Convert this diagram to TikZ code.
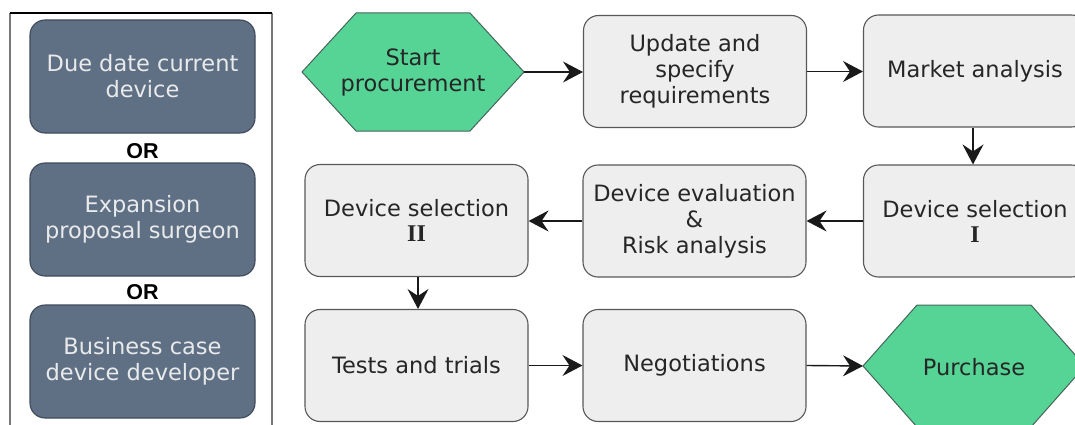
\documentclass[tikz,border=0pt]{standalone}
\usepackage{fontspec}
\setsansfont{DejaVu Sans}
\newfontfamily\numfont{Liberation Serif}
\newfontfamily\orfont{Liberation Sans}
\renewcommand{\familydefault}{\sfdefault}
\usetikzlibrary{arrows.meta}
\definecolor{slatefill}{RGB}{96,112,132}
\definecolor{slateedge}{RGB}{62,74,90}
\definecolor{slatetext}{RGB}{232,234,236}
\definecolor{boxfill}{RGB}{238,238,238}
\definecolor{boxedge}{RGB}{88,88,88}
\definecolor{greenfill}{RGB}{86,212,150}
\definecolor{greenedge}{RGB}{70,100,90}
\definecolor{panelside}{RGB}{120,120,120}
\newcommand{\stagenum}[1]{{\fontsize{24}{26}\selectfont\numfont\bfseries #1}}
\tikzset{
  lbl/.style={font=\fontsize{22.5}{26}\selectfont, align=center, text=black!85},
  stepbox/.style={lbl, draw=boxedge, fill=boxfill, line width=1.1pt,
    rounded corners=15pt, minimum width=223pt, minimum height=112pt, inner sep=0pt},
  trigger/.style={stepbox, draw=slateedge, fill=slatefill, text=slatetext,
    minimum width=225pt, minimum height=113pt},
  hexa/.style={draw=greenedge, fill=greenfill, line width=1pt},
  orlbl/.style={font=\fontsize{21.5}{24}\selectfont\orfont\bfseries, text=black},
  flow/.style={draw=black!90, line width=1.4pt,
    -{Stealth[length=20pt,width=21pt,inset=7pt]}}
}
\begin{document}
\begin{tikzpicture}[x=1pt,y=-1pt]
\useasboundingbox (0,0) rectangle (1075,425);

% frame around the triggers
\draw[panelside, line width=1.2pt] (10,425) -- (10,13);
\draw[panelside, line width=1.2pt] (272,425) -- (272,13);
\draw[black, line width=1.4pt] (10,13) -- (272,13);

% triggers
\node[trigger] (lb1) at (142.5,76.5) {Due date current\\device};
\node[orlbl] (or1) at (142.5,151) {OR};
\node[trigger] (lb2) at (142.5,219.5) {Expansion\\proposal surgeon};
\node[orlbl] (or2) at (142.5,292) {OR};
\node[trigger] (lb3) at (142.5,361.5) {Business case\\device developer};

% start terminal
\draw[hexa] (302,72) -- (356,13) -- (470,13) -- (524,72) -- (470,131) -- (356,131) -- cycle;
\node[lbl] (start) at (413,72) {Start\\procurement};
\coordinate (startE) at (524,72);

% purchase terminal
\draw[hexa] (863,366) -- (917,305) -- (1031,305) -- (1085,366) -- (1031,427) -- (917,427) -- cycle;
\node[lbl] (purchase) at (974,367) {Purchase};
\coordinate (purW) at (863,366);

% process steps
\node[stepbox] (upd)   at (695,71.5)   {Update and\\specify\\requirements};
\node[stepbox] (mkt)   at (975,71)     {\raisebox{-3pt}{Market analysis}};
\node[stepbox] (ds1)   at (975,221)    {Device selection\\[-1pt]\stagenum{I}};
\node[stepbox] (eval)  at (694.5,221)  {Device evaluation\\\&\\Risk analysis};
\node[stepbox] (ds2)   at (416.5,220.5){Device selection\\[-1pt]\stagenum{II}};
\node[stepbox] (tests) at (416.5,365.5){\raisebox{-2pt}{Tests and trials}};
\node[stepbox] (neg)   at (694.5,365.5){\raisebox{-2pt}{Negotiations}};

% flow
\draw[flow] (startE) -- (upd.west |- startE);
\draw[flow] (upd.east) -- (mkt.west |- upd.east);
\draw[flow] (mkt.south -| 973,0) -- (ds1.north -| 973,0);
\draw[flow] (ds1.west) -- (eval.east);
\draw[flow] (eval.west) -- (ds2.east |- eval.west);
\draw[flow] (ds2.south -| 418,0) -- (tests.north -| 418,0);
\draw[flow] (tests.east) -- (neg.west);
\draw[flow] (neg.east) -- (purW);
\end{tikzpicture}
\end{document}
